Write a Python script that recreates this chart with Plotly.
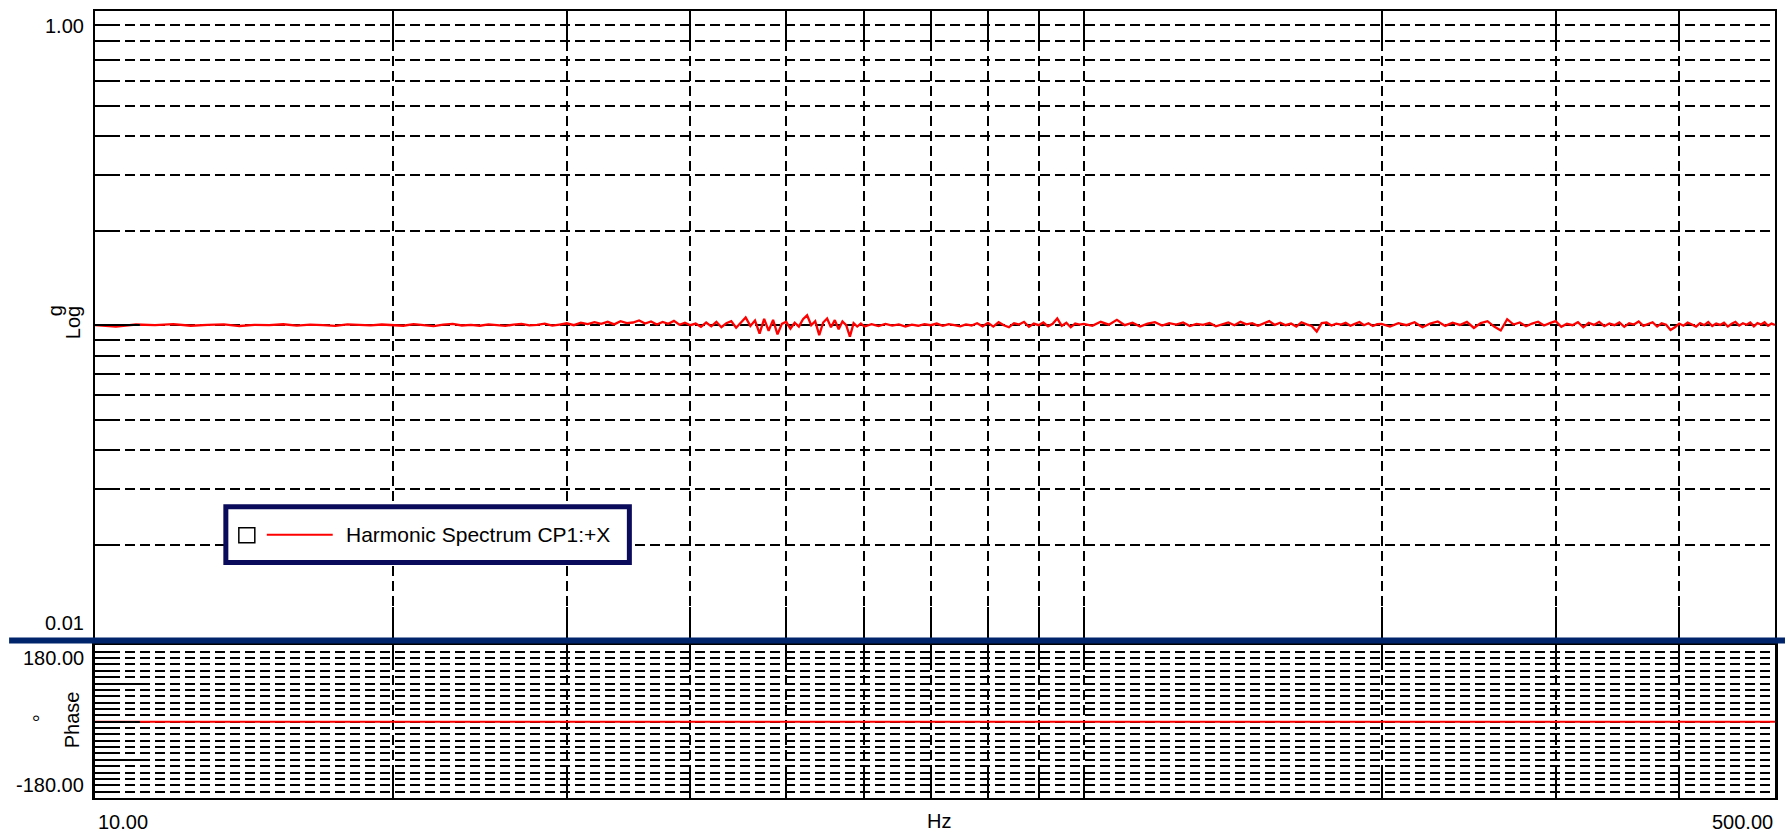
import plotly.graph_objects as go

# ---------------- data ----------------
freq_a = [10.0, 10.5, 11.0, 11.5, 12.0, 12.5, 13.0, 13.5, 14.0, 14.5,
          15.0, 15.5, 16.0, 16.5, 17.0, 17.5, 18.0, 18.5, 19.0, 19.5]
mag_a = [0.1000, 0.0990, 0.1005, 0.1000, 0.1008, 0.0996, 0.1002, 0.1006, 0.0994, 0.1003,
         0.1000, 0.1007, 0.0997, 0.1004, 0.1001, 0.0995, 0.1006, 0.1000, 0.0998, 0.1005]

freq_b = [20.0, 20.5, 21.0, 21.5, 22.0, 22.5, 23.0, 23.5, 24.0, 24.5,
          25.0, 25.5, 26.0, 26.5, 27.0, 27.5, 28.0, 28.5, 29.0, 29.5,
          30.0, 30.5, 31.0, 31.5, 32.0, 32.5, 33.0, 33.5, 34.0, 34.5,
          35.0, 35.5, 36.0, 36.5, 37.0, 37.5, 38.0, 38.5, 39.0, 39.5]
mag_b = [0.1002, 0.0996, 0.1008, 0.1000, 0.0994, 0.1005, 0.1010, 0.0998, 0.1003, 0.0996,
         0.1006, 0.1001, 0.0995, 0.1004, 0.1009, 0.0999, 0.1002, 0.1012, 0.0997, 0.1005,
         0.1014, 0.1000, 0.1018, 0.1008, 0.1022, 0.1010, 0.1025, 0.1006, 0.1030, 0.1015,
         0.1020, 0.1035, 0.1012, 0.1028, 0.1005, 0.1024, 0.1010, 0.1032, 0.1003, 0.1018]

freq_c1 = [40.0, 40.5, 41.0, 41.5, 42.0, 42.5, 43.0, 43.5, 44.0, 44.5,
           45.0, 45.5, 46.0, 46.5, 47.0, 47.5, 48.0, 48.5, 49.0, 49.5,
           50.0, 50.5, 51.0, 51.5, 52.0, 52.5, 53.0, 53.5, 54.0, 54.5,
           55.0, 55.5, 56.0, 56.5, 57.0, 57.5, 58.0, 58.5, 59.0, 59.5]
mag_c1 = [0.1000, 0.1012, 0.0988, 0.1020, 0.0992, 0.1025, 0.0985, 0.1015, 0.1030, 0.0982,
          0.1022, 0.1058, 0.0995, 0.1035, 0.0940, 0.1048, 0.0960, 0.1040, 0.0935, 0.1010,
          0.1025, 0.0975, 0.1018, 0.0990, 0.1045, 0.1075, 0.1000, 0.1030, 0.0930, 0.1020,
          0.1050, 0.0985, 0.1038, 0.0970, 0.1028, 0.1000, 0.0920, 0.1015, 0.0990, 0.1012]

freq_c2 = [60, 61, 62, 63, 64, 65, 66, 67, 68, 69,
           70, 71, 72, 73, 74, 75, 76, 77, 78, 79,
           80, 81, 82, 83, 84, 85, 86, 87, 88, 89,
           90, 91, 92, 93, 94, 95, 96, 97, 98, 99]
mag_c2 = [0.0990, 0.1008, 0.0994, 0.1010, 0.0997, 0.1006, 0.0990, 0.1004, 0.0996, 0.1008,
          0.1000, 0.1012, 0.0995, 0.1008, 0.1000, 0.0992, 0.1006, 0.0998, 0.1015, 0.0992,
          0.1018, 0.0990, 0.1022, 0.1000, 0.0985, 0.1015, 0.1005, 0.1025, 0.0988, 0.1012,
          0.1000, 0.1020, 0.0992, 0.1010, 0.1050, 0.0995, 0.1018, 0.0985, 0.1012, 0.1004]

freq_d = [100, 102, 104, 106, 108, 110, 112, 114, 116, 118,
          120, 122, 124, 126, 128, 130, 132, 134, 136, 138,
          140, 142, 144, 146, 148, 150, 152, 154, 156, 158,
          160, 162, 164, 166, 168, 170, 172, 174, 176, 178,
          180, 182, 184, 186, 188, 190, 192, 194, 196, 198]
mag_d = [0.1010, 0.0995, 0.1025, 0.1004, 0.1040, 0.1000, 0.1018, 0.0990, 0.1012, 0.1022,
         0.0998, 0.1015, 0.1005, 0.1020, 0.0994, 0.1010, 0.1002, 0.1016, 0.0992, 0.1008,
         0.1020, 0.1000, 0.1025, 0.1006, 0.1015, 0.0996, 0.1010, 0.1030, 0.1002, 0.1018,
         0.1000, 0.1012, 0.0990, 0.1022, 0.1006, 0.0995, 0.0955, 0.1015, 0.1020, 0.0998,
         0.1012, 0.1005, 0.1018, 0.0996, 0.1010, 0.1024, 0.1000, 0.1014, 0.0994, 0.1008]

freq_e = [200, 204, 208, 212, 216, 220, 224, 228, 232, 236,
          240, 244, 248, 252, 256, 260, 264, 268, 272, 276,
          280, 284, 288, 292, 296, 300, 304, 308, 312, 316,
          320, 324, 328, 332, 336, 340, 344, 348, 352, 356,
          360, 364, 368, 372, 376, 380, 384, 388, 392, 396,
          400, 404, 408, 412, 416, 420, 424, 428, 432, 436,
          440, 444, 448, 452, 456, 460, 464, 468, 472, 476,
          480, 484, 488, 492, 496, 500]
mag_e = [0.1010, 0.0990, 0.1015, 0.1000, 0.1022, 0.0985, 0.1012, 0.1028, 0.0995, 0.1018,
         0.1002, 0.1025, 0.0980, 0.1015, 0.1030, 0.0990, 0.0962, 0.1045, 0.1005, 0.1020,
         0.0992, 0.1012, 0.1026, 0.0998, 0.1015, 0.1030, 0.0988, 0.1010, 0.1000, 0.1022,
         0.0985, 0.1018, 0.1002, 0.1025, 0.0993, 0.1012, 0.1000, 0.1020, 0.0988, 0.1015,
         0.1005, 0.1028, 0.0995, 0.1010, 0.1022, 0.0990, 0.1015, 0.1003, 0.0965, 0.0985,
         0.1012, 0.0996, 0.1020, 0.1005, 0.0990, 0.1016, 0.1000, 0.1024, 0.0994, 0.1012,
         0.1002, 0.1018, 0.0990, 0.1010, 0.1025, 0.0997, 0.1014, 0.1003, 0.1020, 0.0992,
         0.1015, 0.1005, 0.1022, 0.0996, 0.1012, 0.1002]

phase_freq = [10.0, 500.0]
phase_deg = [0.0, 0.0]

x_grid = [20, 30, 40, 50, 60, 70, 80, 90, 100, 200, 300, 400]
mag_major = [0.1]
mag_minor = [0.02, 0.03, 0.04, 0.05, 0.06, 0.07, 0.08, 0.09,
             0.2, 0.3, 0.4, 0.5, 0.6, 0.7, 0.8, 0.9]
phase_major = [-90, 0, 90]
phase_minor = [-165, -150, -135, -120, -105, -75, -60, -45, -30, -15,
               15, 30, 45, 60, 75, 105, 120, 135, 150, 165]

trace_name = "Harmonic Spectrum CP1:+X"

freq = freq_a + freq_b + freq_c1 + freq_c2 + freq_d + freq_e
mag = mag_a + mag_b + mag_c1 + mag_c2 + mag_d + mag_e

# ---------------- figure ----------------
FONT = "Liberation Sans, Arial, Helvetica, sans-serif"
DASH = "10px,5px"
W, H = 1787, 836
ML, MR, MT, MB = 95, 10, 9, 38
PW, PH = W - ML - MR, H - MT - MB


def xp(px):
    return (px - ML) / PW


def yp(py):
    return (H - MB - py) / PH


fig = go.Figure()
fig.add_trace(go.Scatter(x=freq, y=mag, mode="lines", name=trace_name,
                         line=dict(color="#ff0000", width=2.3),
                         xaxis="x", yaxis="y", showlegend=False))
fig.add_trace(go.Scatter(x=phase_freq, y=phase_deg, mode="lines", name="Phase",
                         line=dict(color="#ff0000", width=2),
                         xaxis="x2", yaxis="y2", showlegend=False))

common_x = dict(type="log", range=[1, 2.69897], tickmode="array", tickvals=x_grid,
                showticklabels=False, ticks="inside", tickcolor="black", tickwidth=2,
                showgrid=True, gridcolor="black", gridwidth=1.6, griddash=DASH,
                showline=True, linecolor="black", linewidth=2, mirror="ticks",
                zeroline=False, fixedrange=True)

top_dom = [yp(639), 1.0]
bot_dom = [0.0, yp(645)]

fig.update_layout(
    width=W, height=H,
    margin=dict(l=ML, r=MR, t=MT, b=MB),
    paper_bgcolor="white", plot_bgcolor="white",
    font=dict(family=FONT, size=20, color="black"),
    showlegend=False,
    xaxis=dict(**common_x, domain=[0, 1], anchor="y", ticklen=32),
    xaxis2=dict(**common_x, domain=[0, 1], anchor="y2", ticklen=24),
    yaxis=dict(type="log", range=[-2, 0], domain=top_dom, anchor="x",
               tickmode="array", tickvals=mag_major, showticklabels=False,
               ticks="inside", ticklen=45, tickwidth=2, tickcolor="black",
               showgrid=True, gridcolor="black", gridwidth=1.6, griddash=DASH,
               minor=dict(tickmode="array", tickvals=mag_minor, ticks="inside",
                          ticklen=25, tickwidth=2, tickcolor="black",
                          showgrid=True, gridcolor="black", gridwidth=1.6, griddash=DASH),
               showline=True, linecolor="black", linewidth=2, mirror=True,
               zeroline=False, fixedrange=True),
    yaxis2=dict(type="linear", range=[-180, 180], domain=bot_dom, anchor="x2",
                tickmode="array", tickvals=phase_major, showticklabels=False,
                ticks="inside", ticklen=45, tickwidth=2, tickcolor="black",
                showgrid=True, gridcolor="black", gridwidth=1.6, griddash=DASH,
                minor=dict(tickmode="array", tickvals=phase_minor, ticks="inside",
                           ticklen=20, tickwidth=2, tickcolor="black",
                           showgrid=True, gridcolor="black", gridwidth=1.6, griddash=DASH),
                showline=True, linecolor="black", linewidth=2.5, mirror=True,
                zeroline=False, fixedrange=True),
)

shapes = [
    # navy separator between the panels
    dict(type="line", xref="paper", yref="paper", x0=xp(9), x1=xp(1787),
         y0=yp(640), y1=yp(640), line=dict(color="#00246b", width=6), layer="above"),
    # legend box
    dict(type="rect", xref="paper", yref="paper", x0=xp(226), x1=xp(630),
         y0=yp(562), y1=yp(506), line=dict(color="#0b0b5c", width=5),
         fillcolor="white", layer="above"),
    # legend check box
    dict(type="rect", xref="paper", yref="paper", x0=xp(239), x1=xp(255),
         y0=yp(542), y1=yp(527), line=dict(color="black", width=1.5),
         fillcolor="white", layer="above"),
    # legend line sample
    dict(type="line", xref="paper", yref="paper", x0=xp(267), x1=xp(333),
         y0=yp(534), y1=yp(534), line=dict(color="#ff0000", width=2), layer="above"),
]
fig.update_layout(shapes=shapes)

ann = []


def add_text(text, px, py, xanchor="center", yanchor="middle", angle=0, size=20):
    ann.append(dict(text=text, xref="paper", yref="paper", x=xp(px), y=yp(py),
                    xanchor=xanchor, yanchor=yanchor, showarrow=False,
                    textangle=angle, font=dict(family=FONT, size=size, color="black")))


add_text(trace_name, 344, 534, xanchor="left", size=21)
add_text("1.00", 86, 24, xanchor="right")
add_text("0.01", 86, 623, xanchor="right")
add_text("180.00", 86, 658, xanchor="right")
add_text("-180.00", 86, 785, xanchor="right")
add_text("10.00", 96, 822, xanchor="left")
add_text("500.00", 1777, 822, xanchor="right")
add_text("Hz", 940, 821)
add_text("g", 55, 310, angle=-90)
add_text("Log", 73, 322, angle=-90)
add_text("°", 41, 718, angle=-90)
add_text("Phase", 72, 720, angle=-90)
fig.update_layout(annotations=ann)

fig.write_html("out.html", config={"displayModeBar": False},
               post_script="document.body.style.margin='0';document.body.style.overflow='hidden';")
